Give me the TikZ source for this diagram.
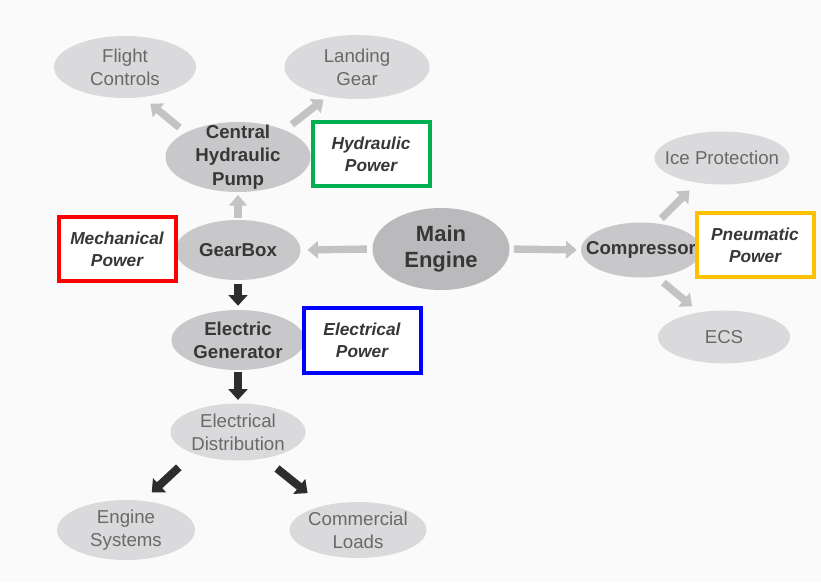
\documentclass[tikz,border=0pt]{standalone}
\usepackage{fontspec}
\setmainfont{Liberation Sans}
\usetikzlibrary{shapes.geometric,arrows.meta}

\definecolor{bgpaper}{RGB}{250,250,250}
\definecolor{litfill}{RGB}{218,218,220}
\definecolor{midfill}{RGB}{200,200,202}
\definecolor{engfill}{RGB}{186,186,189}
\definecolor{littext}{RGB}{105,105,105}
\definecolor{boldtext}{RGB}{55,55,55}
\definecolor{litarrow}{RGB}{195,195,195}
\definecolor{darkarrow}{RGB}{45,45,45}
\definecolor{mechred}{RGB}{255,0,0}
\definecolor{hydgreen}{RGB}{0,176,80}
\definecolor{elecblue}{RGB}{0,0,255}
\definecolor{pneuyellow}{RGB}{255,192,0}

\begin{document}
\begin{tikzpicture}[x=0.75pt,y=0.75pt,yscale=-1,xscale=1,
  litell/.style={ellipse,fill=litfill,inner sep=0pt},
  boldell/.style={ellipse,fill=midfill,inner sep=0pt},
  littxt/.style={text=littext,align=center,font=\fontsize{14}{17}\selectfont},
  boldtxt/.style={text=boldtext,align=center,font=\bfseries\fontsize{14}{17.5}\selectfont},
  powerbox/.style={draw,line width=3pt,fill=white,minimum width=87.75pt,minimum height=48pt,align=center,text=boldtext,font=\bfseries\itshape\fontsize{13}{16.5}\selectfont},
  litarr/.style={draw=litarrow,line width=5.5pt,-{Triangle[width=13pt,length=8pt]}},
  darkarr/.style={draw=darkarrow,line width=6pt,-{Triangle[width=14pt,length=8pt]}}
]
%Paper
\fill[bgpaper] (0,0) rectangle (821,582);
\useasboundingbox (0,0) rectangle (821,582);

%Shape: Ellipse [hydraulic side]
\node[litell,minimum width=106.5pt,minimum height=46.5pt,label={[littxt]center:Flight\\Controls}] (flight) at (125,67) {};
\node[litell,minimum width=108.75pt,minimum height=48pt,label={[littxt]center:Landing\\Gear}] (landing) at (357,67) {};
\node[boldell,minimum width=108.75pt,minimum height=52.5pt,label={[boldtxt]center:Central\\Hydraulic\\Pump}] (pump) at (238,157) {};

%Shape: Ellipse [engine row]
\node[boldell,minimum width=93.75pt,minimum height=45pt,label={[boldtxt]center:GearBox}] (gearbox) at (238,250) {};
\node[boldell,fill=engfill,minimum width=102.75pt,minimum height=61.5pt,label={[boldtxt,font=\bfseries\fontsize{16.5}{20}\selectfont]center:Main\\Engine}] (engine) at (441,249) {};
\node[boldell,minimum width=90pt,minimum height=41.25pt,label={[boldtxt]center:Compressor}] (compressor) at (641,250) {};
\node[litell,minimum width=101.25pt,minimum height=39.75pt,label={[littxt]center:Ice Protection}] (ice) at (722,158) {};
\node[litell,minimum width=99pt,minimum height=39.75pt,label={[littxt]center:ECS}] (ecs) at (724,337) {};

%Shape: Ellipse [electrical side]
\node[boldell,minimum width=99.75pt,minimum height=45pt,label={[boldtxt]center:Electric\\Generator}] (generator) at (238,340) {};
\node[litell,minimum width=101.25pt,minimum height=42.75pt,label={[littxt]center:Electrical\\Distribution}] (distrib) at (238,432) {};
\node[litell,minimum width=103.5pt,minimum height=45pt,label={[littxt]center:Engine\\Systems}] (engsys) at (126,530) {};
\node[litell,minimum width=102.75pt,minimum height=42pt,label={[littxt]center:Commercial\\Loads}] (loads) at (358,530) {};

%Shape: Rectangle [power boxes]
\node[powerbox,draw=hydgreen] (hydbox) at (371,154) {Hydraulic\\Power};
\node[powerbox,draw=mechred] (mechbox) at (117,249) {Mechanical\\Power};
\node[powerbox,draw=elecblue,minimum height=48.75pt] (elecbox) at (362,340) {Electrical\\Power};
\node[powerbox,draw=pneuyellow] (pneubox) at (755,245) {Pneumatic\\Power};

%Straight Lines [light arrows]
\draw[litarr,shorten <=6pt,shorten >=7.5pt] (pump.155) -- (flight.-60);
\draw[litarr,shorten <=6.75pt,shorten >=3.75pt] (pump.30) -- (landing.-135);
\draw[litarr,shorten <=1.5pt,shorten >=2pt] (gearbox.north) -- (pump.south);
\draw[litarr,shorten <=4pt,shorten >=5pt] (engine.west) -- (gearbox.east);
\draw[litarr,shorten <=3pt,shorten >=3pt] (engine.east) -- (compressor.west);
\draw[litarr,shorten <=5pt,shorten >=8pt] (compressor.60) -- (ice.-135);
\draw[litarr,shorten <=6.75pt,shorten >=6.75pt] (compressor.-60) -- (ecs.135);

%Straight Lines [dark arrows]
\draw[darkarr,shorten <=3pt,shorten >=3pt] (gearbox.south) -- (generator.north);
\draw[darkarr,shorten <=1.5pt,shorten >=2.5pt] (generator.south) -- (distrib.north);
\draw[darkarr,shorten <=15pt,shorten >=9pt] (distrib.-154) -- (engsys.60);
\draw[darkarr,shorten <=12pt,shorten >=15pt] (distrib.-45) -- (loads.145);

\end{tikzpicture}
\end{document}
